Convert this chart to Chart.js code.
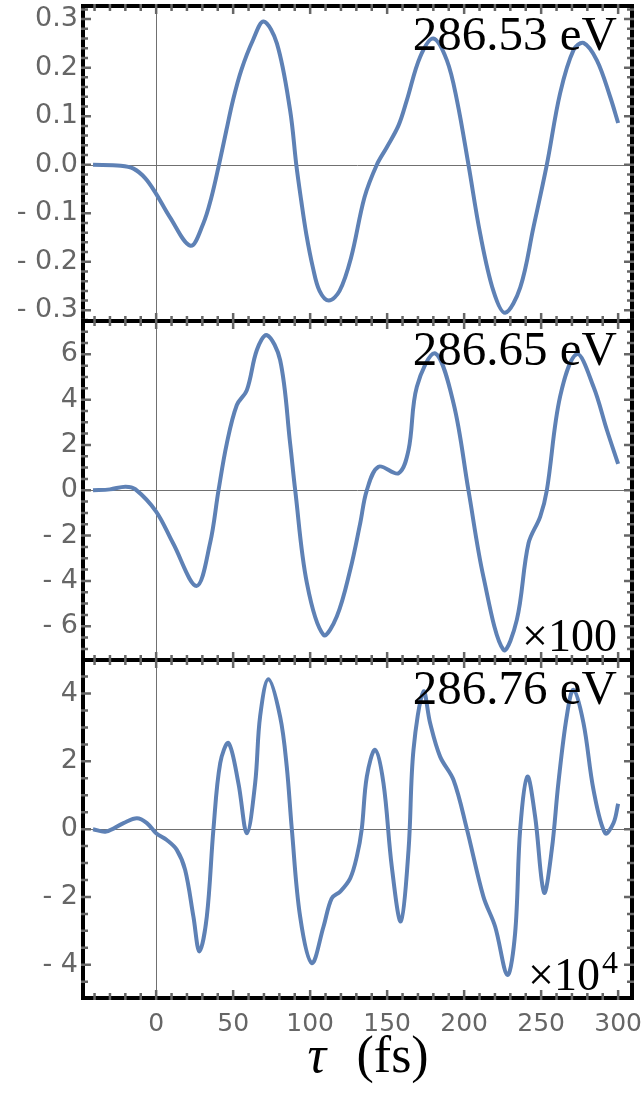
<!DOCTYPE html>
<html>
<head>
<meta charset="utf-8">
<script src="https://cdn.jsdelivr.net/npm/chart.js@4.4.1/dist/chart.umd.min.js"></script>
<style>
body{margin:0;background:#fff;}
.wrap{position:relative;width:643px;height:1094px;}
.wrap canvas{position:absolute;left:0;top:0;}
</style>
</head>
<body>
<div class="wrap">
  <canvas id="p1" width="643" height="1094"></canvas>
  <canvas id="p2" width="643" height="1094"></canvas>
  <canvas id="p3" width="643" height="1094"></canvas>
</div>
<script>
// delay tau (fs) and signal of each panel
const tau1 = [-41,-23,-14.7,-7,0,8.9,22.3,30.5,35.9,40.8,45.6,49.9,55.3,62.9,69.8,78.4,87,91,94.2,97.5,101.8,106.1,112.1,119.1,126.6,135.3,143.3,149.8,157.4,162.8,171.4,180,188.8,195.3,202.8,210.4,219,226.6,236.4,245,253.7,262.3,271,277.5,286.2,294.8,300];
const amp1 = [0,-0.002,-0.008,-0.028,-0.06,-0.108,-0.167,-0.122,-0.067,0,0.071,0.133,0.195,0.257,0.295,0.25,0.112,0,-0.074,-0.143,-0.212,-0.26,-0.28,-0.26,-0.191,-0.067,0,0.036,0.081,0.133,0.222,0.26,0.215,0.133,0,-0.142,-0.26,-0.305,-0.253,-0.129,0,0.147,0.236,0.251,0.215,0.14,0.086];

const tau2 = [-41,-30,-20,-13.6,0,11,26.2,35,40.5,45.9,52.4,58.9,65.4,71.9,80.5,87,90.3,97.9,108.7,117.3,126,132.5,136.8,144.4,157.4,163.9,169.3,181.2,193.1,202.8,212.5,225.5,234.2,241.8,249.4,253.7,262.3,273.2,284,292.7,300];
const amp2 = [0,0.04,0.16,0.05,-0.94,-2.34,-4.22,-2.34,0,2.07,3.76,4.42,6.19,6.85,5.75,2.07,0,-4.1,-6.38,-5.57,-3.52,-1.46,0,1.04,0.75,1.78,4.57,6.04,3.84,0,-3.81,-7.04,-5.72,-2.34,-1.16,0,4.13,6.01,4.57,2.66,1.16];

const tau3 = [-41,-32.5,-21.2,-12.5,-6,0,6.9,13.4,18.8,24.2,28.1,32.9,37.2,41.6,47,53.4,58.9,64.3,67.5,72.9,80.5,84.8,88.1,93.5,101.1,108.7,114,119.5,126,130.3,133.5,136.8,142.2,147.6,153,158.9,163.9,167.1,173.6,177.9,184.4,193.1,201.8,212.5,220.1,228.1,233.1,236.4,241.1,246.1,251.9,256.9,261.2,266.6,271,277.5,284,291.6,297,300];
const amp3 = [0,-0.07,0.18,0.32,0.18,-0.12,-0.32,-0.61,-1.2,-2.58,-3.61,-2.58,0,1.95,2.54,1.36,-0.12,1.36,3.32,4.42,3.32,1.85,0,-2.58,-3.95,-2.87,-2.04,-1.84,-1.45,-0.81,0,1.55,2.34,1.36,-1.1,-2.72,-0.61,2.34,4.06,3.13,2.14,1.45,0,-1.99,-2.87,-4.3,-3.07,0,1.55,0.37,-1.87,-0.61,1.36,3.32,4.11,3.13,1.16,-0.12,0.18,0.75];

const tauTicks = [0,50,100,150,200,250,300];
const yTicks1 = [-0.3,-0.2,-0.1,0,0.1,0.2,0.3];
const yTicks2 = [-6,-4,-2,0,2,4,6];
const yTicks3 = [-4,-2,0,2,4];
const energies = ["286.53 eV","286.65 eV","286.76 eV"];
const factors = [null,"100","4"];

const BLUE = "#5e81b5";
const GREY = "#666666";
const SERIF = "'Liberation Serif', 'DejaVu Serif', serif";
const SANS = "'DejaVu Sans', sans-serif";

function fmtTick(dec){
  return function(v){
    const s = Math.abs(v).toFixed(dec);
    return v < -1e-9 ? "- " + s : s;
  };
}

function framePlugin(idx, yMinor){
  return {
    id: "frame" + idx,
    beforeDatasetsDraw(chart){
      const {ctx, chartArea:a, scales:{x, y}} = chart;
      ctx.save();
      ctx.strokeStyle = "#707070";
      ctx.lineWidth = 1;
      const x0 = Math.round(x.getPixelForValue(0)) + 0.5;
      const y0 = Math.round(y.getPixelForValue(0)) + 0.5;
      ctx.beginPath();
      ctx.moveTo(x0, a.top); ctx.lineTo(x0, a.bottom);
      ctx.moveTo(a.left, y0); ctx.lineTo(a.right, y0);
      ctx.stroke();
      ctx.restore();
    },
    afterDraw(chart){
      const {ctx, chartArea:a, scales:{x, y}} = chart;
      ctx.save();
      ctx.strokeStyle = "#000";
      ctx.lineWidth = 4;
      ctx.strokeRect(a.left, a.top, a.right - a.left, a.bottom - a.top);

      ctx.strokeStyle = GREY;
      ctx.lineWidth = 2.5;
      const tick = (px, major, horiz) => {
        const inner = major ? 8 : 5;
        ctx.beginPath();
        if (horiz) {
          ctx.moveTo(a.left - 2, px); ctx.lineTo(a.left + inner, px);
          ctx.moveTo(a.right + 2, px); ctx.lineTo(a.right - inner, px);
        } else {
          ctx.moveTo(px, a.top - 2); ctx.lineTo(px, a.top + inner);
          ctx.moveTo(px, a.bottom + 2); ctx.lineTo(px, a.bottom - inner);
        }
        ctx.stroke();
      };
      for (let v = Math.ceil(x.min / 10) * 10; v <= x.max; v += 10) {
        tick(x.getPixelForValue(v), v % 50 === 0, false);
      }
      const n0 = Math.ceil(y.min / yMinor), n1 = Math.floor(y.max / yMinor);
      for (let n = n0; n <= n1; n++) {
        const v = n * yMinor;
        const major = y.ticks.some(t => Math.abs(t.value - v) < yMinor / 10);
        tick(y.getPixelForValue(v), major, true);
      }

      // energy label and scale factor
      ctx.fillStyle = "#000";
      ctx.textAlign = "right";
      ctx.textBaseline = "alphabetic";
      ctx.font = "49px " + SERIF;
      ctx.fillText(energies[idx], a.right - 15, a.top + 44);
      if (factors[idx] === "100") {
        ctx.font = "46px " + SERIF;
        ctx.fillText("\u00d7" + factors[idx], a.right - 15, a.bottom - 9);
      } else if (factors[idx]) {
        ctx.font = "32px " + SERIF;
        ctx.fillText(factors[idx], a.right - 14, a.bottom - 25);
        const w = ctx.measureText(factors[idx]).width;
        ctx.font = "46px " + SERIF;
        ctx.fillText("\u00d710", a.right - 16 - w, a.bottom - 8);
      }

      if (idx === 2) {
        const cx = (a.left + a.right) / 2;
        ctx.textAlign = "left";
        ctx.font = "italic 52px " + SERIF;
        ctx.fillText("\u03c4", cx - 50, a.bottom + 74);
        ctx.font = "52px " + SERIF;
        ctx.fillText("(fs)", cx - 1, a.bottom + 74);
      }
      ctx.restore();
    }
  };
}

function makePanel(id, idx, tau, amp, yMin, yMax, yTicks, yMinor, dec, top, bottom){
  const last = idx === 2;
  new Chart(document.getElementById(id), {
    type: "line",
    data: {
      datasets: [{
        data: tau.map((t, i) => ({x: t, y: amp[i]})),
        borderColor: BLUE,
        borderWidth: 4,
        pointRadius: 0,
        fill: false,
        tension: 0.35
      }]
    },
    options: {
      responsive: false,
      animation: false,
      layout: {padding: {left: 0, right: 11, top: top, bottom: last ? 0 : 1094 - bottom}},
      plugins: {legend: {display: false}, tooltip: {enabled: false}},
      scales: {
        x: {
          type: "linear",
          min: -47.5,
          max: 309,
          display: last,
          afterBuildTicks: s => { s.ticks = tauTicks.map(v => ({value: v})); },
          afterFit: s => { s.height = last ? 1094 - bottom : 0; s.paddingLeft = 0; s.paddingRight = 0; },
          grid: {display: false, drawTicks: false},
          border: {display: false},
          ticks: {
            color: GREY,
            font: {family: SANS, size: 25},
            padding: 11,
            maxRotation: 0,
            autoSkip: false,
            callback: v => String(v)
          }
        },
        y: {
          min: yMin,
          max: yMax,
          afterBuildTicks: s => { s.ticks = yTicks.map(v => ({value: v})); },
          afterFit: s => { s.width = 83; s.paddingTop = 0; s.paddingBottom = 0; },
          grid: {display: false, drawTicks: false},
          border: {display: false},
          ticks: {
            color: GREY,
            font: {family: SANS, size: 27},
            padding: 5,
            autoSkip: false,
            callback: fmtTick(dec)
          }
        }
      }
    },
    plugins: [framePlugin(idx, yMinor)]
  });
}

makePanel("p1", 0, tau1, amp1, -0.322, 0.327, yTicks1, 0.02, 1, 6, 321);
makePanel("p2", 1, tau2, amp2, -7.49, 7.47, yTicks2, 0.5, 0, 321, 660);
makePanel("p3", 2, tau3, amp3, -4.98, 4.99, yTicks3, 0.5, 0, 660, 998);
</script>
</body>
</html>
